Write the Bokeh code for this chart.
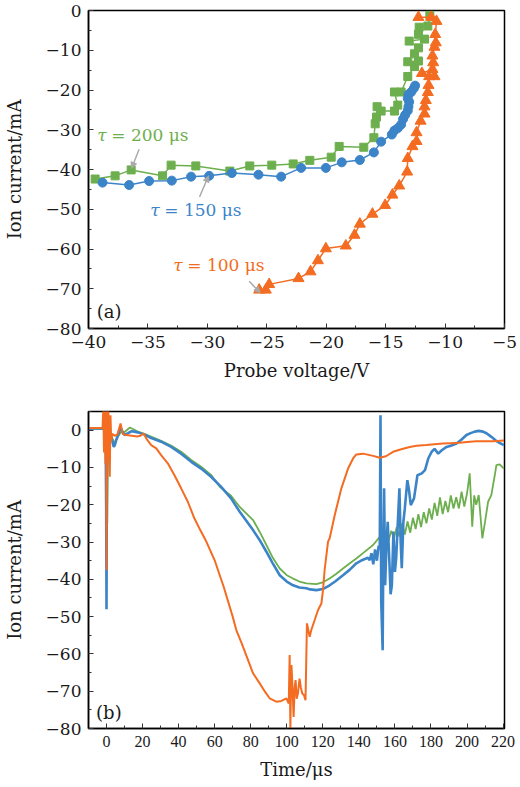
from bokeh.plotting import figure
from bokeh.layouts import column
from bokeh.models import Label, Arrow, NormalHead, SingleIntervalTicker, Range1d
from bokeh.embed import file_html
from bokeh.resources import INLINE

GREEN = "#6DAF4E"
BLUE = "#3C84C8"
ORANGE = "#F36C21"
GREY = "#A8A8A8"
FONT = "DejaVu Serif"
INK = "#1a1a1a"

# ---------------- (a) probe I-V characteristics ----------------
v200 = [-39.44, -37.76, -36.41, -33.77, -33.05, -30.97, -28.11, -26.43, -24.58, -22.78,
        -21.38, -19.58, -18.91, -16.84, -15.99, -15.88, -15.77, -15.72, -15.38, -14.26,
        -13.98, -14.26, -13.70, -13.14, -12.57, -13.14, -12.24, -12.57, -12.24, -13.02,
        -11.73, -12.24, -12.18, -11.45, -11.28]
i200 = [-42.4, -41.6, -40.1, -41.6, -38.9, -39.1, -40.4, -39.1, -38.9, -38.6,
        -37.7, -36.9, -34.2, -34.4, -32.0, -28.5, -26.8, -24.2, -25.3, -25.3,
        -23.8, -20.5, -20.5, -16.6, -14.1, -12.9, -12.7, -10.9, -9.4, -7.7,
        -7.2, -6.0, -4.2, -3.9, -1.2]

v150 = [-38.82, -36.58, -34.90, -32.99, -31.37, -29.85, -27.94, -25.70, -23.79, -22.11,
        -20.03, -18.69, -17.17, -15.99, -15.38, -14.48, -14.26, -13.98, -13.70, -13.53,
        -13.36, -13.14, -13.08, -13.02, -13.14, -13.08, -12.85, -12.63, -12.52]
i150 = [-43.3, -43.9, -42.9, -42.8, -41.8, -41.6, -40.9, -41.3, -41.8, -39.6,
        -39.6, -38.2, -37.6, -35.7, -33.0, -31.2, -30.2, -29.6, -28.7, -27.3,
        -26.3, -25.2, -24.2, -23.0, -22.1, -21.1, -20.5, -19.6, -18.9]

v100 = [-25.64, -25.08, -24.80, -22.33, -21.32, -20.70, -20.03, -18.35, -17.62, -17.17,
        -16.11, -15.04, -14.43, -13.86, -13.19, -13.14, -12.74, -12.40, -12.40, -12.06,
        -11.73, -11.73, -11.62, -11.45, -11.39, -11.34, -10.89, -11.95, -11.06, -11.00,
        -11.06, -10.89, -10.78, -10.83, -10.72, -11.17, -12.24]
i100 = [-70.3, -70.3, -68.9, -67.4, -65.7, -62.9, -59.9, -59.2, -56.5, -53.7,
        -51.2, -49.0, -46.4, -44.1, -40.6, -37.2, -34.2, -32.9, -30.7, -27.8,
        -26.0, -24.2, -22.6, -20.6, -18.8, -16.6, -16.6, -15.8, -14.8, -13.1,
        -11.4, -9.2, -8.1, -6.0, -2.7, -1.7, -1.7]

volt_ticks = [-40, -35, -30, -25, -20, -15, -10, -5]
volt_labels = ["\u221240", "\u221235", "\u221230", "\u221225", "\u221220", "\u221215", "\u221210", "\u22125"]
cur_ticks = [0, -10, -20, -30, -40, -50, -60, -70, -80]
cur_labels = ["0", "\u221210", "\u221220", "\u221230", "\u221240", "\u221250", "\u221260", "\u221270", "\u221280"]

# ---------------- (b) ion current waveforms ----------------
t150 = [-10, -5, -1.5, -0.5, -0.2, 0.0, 0.2, 0.6, 1.2, 2,
        3, 4, 4.6, 5.5, 6.4, 7.5, 8.2, 9.2, 10, 12,
        13.7, 15.5, 17.4, 21.1, 24.8, 30.3, 35.9, 41.4, 47, 52.5,
        58, 63.6, 69.1, 73.9, 81.3, 85, 88.7, 92, 96.1, 100,
        103.5, 107, 110.9, 113, 116.4, 120, 123.8, 127, 131.2, 135,
        138.6, 142, 145, 146, 147, 148, 149, 150, 151, 151.6,
        152.0, 152.4, 153.2, 153.6, 154, 154.6, 155.2, 156, 157, 157.6,
        158.3, 159.2, 160.0, 160.7, 161.5, 162.5, 163.2, 163.8, 164.7, 165.5,
        166.9, 167.8, 168.8, 170.6, 172.5, 174.9, 176.7, 178.5, 180.4, 182,
        184, 186, 188.6, 191, 194.2, 197, 199.7, 202, 204.3, 206.5,
        208.9, 211, 213.5, 216, 218, 220.5]
i150b = [0.4, 0.5, 0.4, 0.3, -20, -48, -10, -3, -1.5, -1.3,
         -2.5, -4.5, -4.0, -2.5, -1.3, 0.2, 0.4, -0.8, -1.3, -0.8,
         -0.3, -0.4, -0.6, -1.2, -2.1, -3.1, -4.5, -6.3, -8.5, -10.3,
         -12.5, -15.2, -18.3, -21.9, -26.8, -29.5, -32.6, -35.5, -38.9, -40.6,
         -41.6, -42.2, -42.4, -42.7, -42.9, -42.6, -41.6, -40.5, -38.9, -37.4,
         -35.7, -34.8, -34.2, -34.9, -33.0, -36.0, -32.0, -35.0, -31.0, -31.8,
         4.0, -46, -59, -30, -15.6, -41.6, -32, -24.6, -36.2, -44,
         -41.6, -27.2, -38, -34.4, -26, -15.6, -30, -37, -24.6, -21,
         -13.4, -16, -20.1, -18.3, -12.1, -11.6, -10.7, -7.6, -5.8, -5.0,
         -6.3, -5.4, -4.5, -4.2, -3.6, -2.5, -1.3, -0.8, -0.4, -0.2,
         -0.4, -0.9, -1.8, -2.8, -3.4, -4.0]

t200 = [-10, -5, -1.5, -0.5, 0.0, 0.4, 0.8, 1.5, 3, 4.5,
        6, 8, 10, 13, 17, 21, 25, 30, 36, 41.4,
        47, 52.5, 58, 62.8, 69.1, 73.9, 81.3, 85, 88.7, 92,
        96.1, 100, 103.5, 107, 110.9, 116.4, 120, 123.8, 127.5, 131.2,
        135, 138.6, 143, 147.9, 151.6, 153, 155, 156.5, 158, 159.5,
        161, 162.5, 164, 165.5, 167, 168.5, 170, 171.5, 173, 174.5,
        176, 177.5, 179, 180.5, 182, 183.5, 185, 186.5, 188, 189.5,
        191, 192.5, 194, 195.5, 197, 198.5, 200, 201.5, 202.9, 204,
        205.1, 206.5, 208.5, 210, 211.7, 213.5, 215.4, 216.3, 218.1, 220.5]
i200b = [0.3, 0.4, 0.3, 0.2, -8, -25, -6, -2, -2, -3.5,
         -2, -0.5, -0.5, 0.7, -0.3, -1.0, -1.8, -2.8, -4.2, -5.8,
         -8.0, -9.8, -12.0, -15.2, -17.6, -20.6, -24.1, -27.3, -30.8, -34.0,
         -37.1, -38.9, -39.8, -40.6, -41.1, -41.3, -40.8, -39.8, -38.5, -37.1,
         -35.7, -34.4, -32.7, -30.8, -28.6, -29.6, -27.5, -29.5, -27, -29,
         -26, -28.5, -25, -28, -24.5, -27.5, -23.5, -26.5, -22.5, -26,
         -22, -25, -21, -24, -19.5, -23, -18, -22.5, -19, -22,
         -17.5, -21, -18, -21, -16.5, -20.5, -17, -11.6, -25.9, -17.5,
         -20, -17.4, -29, -24.6, -19.2, -17.4, -12.1, -9.4, -9.2, -10.3]

t100 = [-10, -5, -2.2, -1.8, -1.4, -1.0, -0.6, -0.2, 0.0, 0.3,
        0.7, 1.0, 1.4, 1.8, 2.2, 2.6, 3.2, 4.5, 6, 7.8,
        9, 11, 14, 17, 18.8, 20.6, 22.4, 24.8, 27.6, 30.3,
        34, 37.7, 41.4, 45.1, 48.8, 52, 55, 60, 62.8, 65,
        70, 72, 75, 78, 81.3, 85, 88, 90.5, 94.2, 97,
        99.8, 101.1, 101.6, 102, 102.3, 102.6, 103.1, 103.8, 104.4, 104.9,
        105.5, 106.2, 107.1, 107.8, 108.6, 109.5, 110.4, 111.2, 112.7, 113.6,
        115.5, 117.3, 119.2, 120.1, 121, 122.9, 123.8, 126.6, 130.3, 134,
        136.8, 138.6, 142.3, 147.9, 151.6, 155, 159, 163, 168.2, 172,
        177.4, 182, 186.6, 191, 195.9, 200, 205.1, 210, 214.3, 220.5]
i100b = [0.6, 0.6, 0.6, 5.5, -6, 5.5, -9, 5.5, -37.5, 5.5,
         -8, 5.5, -6, -12.5, 4, -3, -1, -1.5, -1.2, 1.8,
         -1.0, -1.3, -1.5, -1.7, -1.5, -0.9, -2.5, -4.0, -4.9, -6.7,
         -8.9, -12.1, -15.6, -19.2, -23.7, -26.8, -29.5, -34.9, -38.9, -42,
         -50, -53.6, -57.2, -61, -65.2, -67.9, -70.2, -71.9, -72.8, -72.6,
         -71.9, -73.3, -60.3, -80, -70, -63, -67.9, -76.9, -69, -67,
         -72, -70.6, -66.6, -69, -70.6, -71, -72.4, -51.8, -55.4, -53.6,
         -50.9, -48.3, -46.5, -42.9, -37.5, -29.9, -29, -22.8, -15.6, -10.3,
         -7.6, -6.5, -6.3, -6.9, -7.4, -7.0, -5.8, -5.2, -4.5, -4.2,
         -4.0, -3.8, -3.6, -3.5, -3.4, -3.2, -3.0, -3.0, -3.0, -2.8]

time_ticks = [0, 20, 40, 60, 80, 100, 120, 140, 160, 180, 200, 220]
time_labels = [str(t) for t in time_ticks]

for a, b in ((v200, i200), (v150, i150), (v100, i100), (t150, i150b), (t200, i200b), (t100, i100b)):
    assert len(a) == len(b), (len(a), len(b))


def style_axes(p, xticker, yticker, xticks, xlabels, yticks, ylabels, xtick_font, xtick_size):
    p.outline_line_color = "black"
    p.outline_line_width = 1.5
    p.xgrid.visible = False
    p.ygrid.visible = False
    p.xaxis.ticker = xticker
    p.yaxis.ticker = yticker
    p.xaxis.major_label_overrides = dict(zip(xticks, xlabels))
    p.yaxis.major_label_overrides = dict(zip(yticks, ylabels))
    for ax in (p.xaxis[0], p.yaxis[0]):
        ax.major_tick_in = 5
        ax.major_tick_out = 0
        ax.minor_tick_in = 3
        ax.minor_tick_out = 0
        ax.axis_line_color = "black"
        ax.axis_line_width = 1.5
        ax.major_tick_line_color = "#333333"
        ax.minor_tick_line_color = "#333333"
        ax.major_label_text_font = FONT
        ax.major_label_text_font_size = "17px"
        ax.major_label_text_color = INK
        ax.axis_label_text_font = FONT
        ax.axis_label_text_font_size = "18px"
        ax.axis_label_text_font_style = "normal"
        ax.axis_label_text_color = INK
        ax.major_label_standoff = 7
    p.xaxis.major_label_text_font = xtick_font
    p.xaxis.major_label_text_font_size = xtick_size
    p.yaxis.axis_label_standoff = 18
    p.xaxis.axis_label_standoff = 9


def tau_label(p, x, y, txt, color):
    p.add_layout(Label(x=x, y=y, text="\u03c4", text_font=FONT, text_font_style="italic",
                       text_font_size="17px", text_color=color, text_baseline="middle"))
    p.add_layout(Label(x=x, y=y, x_offset=14, text="= " + txt, text_font=FONT,
                       text_font_size="17px", text_color=color, text_baseline="middle"))


def pointer(p, xs, ys, xe, ye):
    p.add_layout(Arrow(end=NormalHead(size=6, line_color=GREY, fill_color=GREY),
                       x_start=xs, y_start=ys, x_end=xe, y_end=ye,
                       line_color=GREY, line_width=1.4))


# ---- top panel ----
pa = figure(width=520, height=390, output_backend="svg", toolbar_location=None,
            x_range=Range1d(-40, -5), y_range=Range1d(-80, 0),
            min_border_left=88, min_border_right=16, min_border_top=10, min_border_bottom=62,
            x_axis_label="Probe voltage/V", y_axis_label="Ion current/mA")
style_axes(pa, SingleIntervalTicker(interval=5, num_minor_ticks=2),
           SingleIntervalTicker(interval=10, num_minor_ticks=2),
           volt_ticks, volt_labels, cur_ticks, cur_labels, FONT, "17px")

pa.line(v200, i200, line_color=GREEN, line_width=1.5)
pa.scatter(v200, i200, marker="square", size=8, fill_color=GREEN, line_color=GREEN)
pa.line(v150, i150, line_color=BLUE, line_width=1.5)
pa.scatter(v150, i150, marker="circle", size=9, fill_color=BLUE, line_color=BLUE)
pa.line(v100, i100, line_color=ORANGE, line_width=1.5)
pa.scatter(v100, i100, marker="triangle", size=11, fill_color=ORANGE, line_color=ORANGE)

tau_label(pa, -39.26, -31.4, "200 \u03bcs", GREEN)
tau_label(pa, -34.8, -50.3, "150 \u03bcs", BLUE)
tau_label(pa, -32.87, -63.9, "100 \u03bcs", ORANGE)
pointer(pa, -35.74, -34.9, -36.37, -39.7)
pointer(pa, -30.66, -46.9, -29.90, -41.6)
pointer(pa, -26.48, -68.1, -25.56, -71.0)
pa.add_layout(Label(x=-38.26, y=-75.8, text="(a)", text_font=FONT, text_font_size="18px",
                    text_color=INK, text_align="center", text_baseline="middle"))

# ---- bottom panel ----
pb = figure(width=520, height=397, output_backend="svg", toolbar_location=None,
            x_range=Range1d(-10, 220.8), y_range=Range1d(-80, 5),
            min_border_left=88, min_border_right=16, min_border_top=21, min_border_bottom=59,
            x_axis_label="Time/\u03bcs", y_axis_label="Ion current/mA")
style_axes(pb, SingleIntervalTicker(interval=20, num_minor_ticks=2),
           SingleIntervalTicker(interval=10, num_minor_ticks=2),
           time_ticks, time_labels, cur_ticks, cur_labels, "Liberation Serif", "16px")

pb.line(t200, i200b, line_color=GREEN, line_width=1.8)
pb.line(t150, i150b, line_color=BLUE, line_width=2.6)
pb.line(t100, i100b, line_color=ORANGE, line_width=2.0)
pb.add_layout(Label(x=1.3, y=-75.6, text="(b)", text_font=FONT, text_font_size="18px",
                    text_color=INK, text_align="center", text_baseline="middle"))

layout = column(pa, pb, spacing=0)
open("out.html", "w").write(file_html(layout, INLINE))
